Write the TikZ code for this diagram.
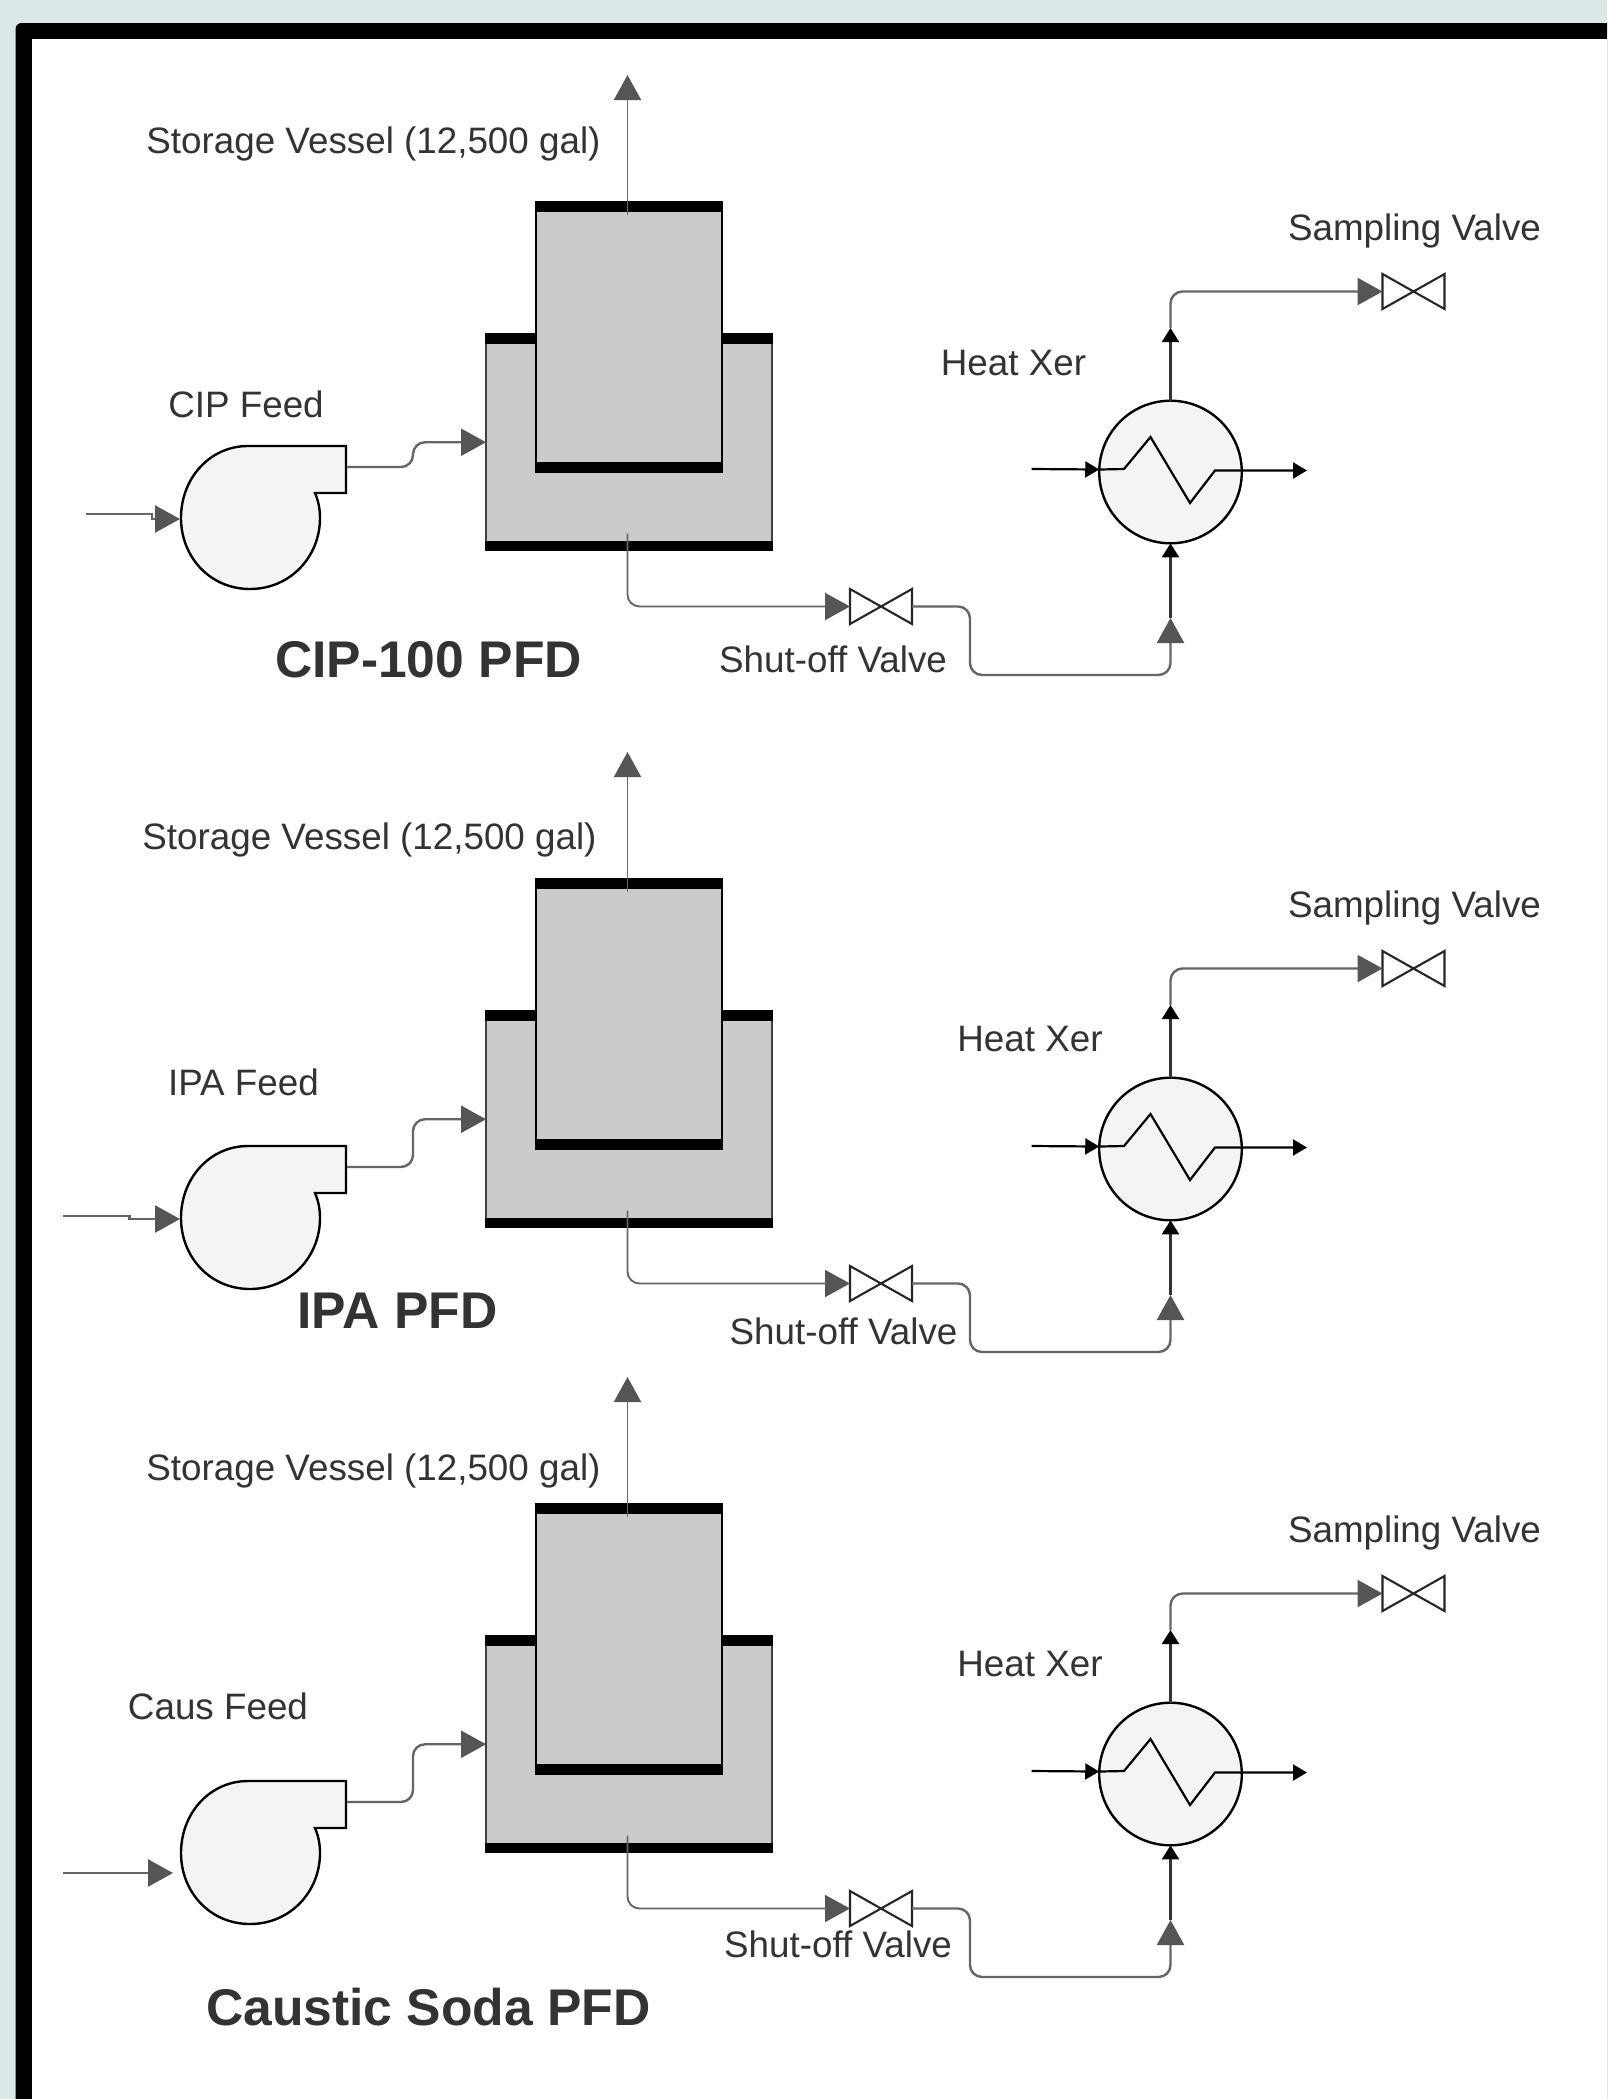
\documentclass[tikz,border=0pt]{standalone}
\usepackage{fontspec}
\setmainfont{Liberation Sans}
\usetikzlibrary{arrows.meta}
\definecolor{pagebg}{HTML}{DCE8E7}
\definecolor{vesselgrey}{HTML}{CBCBCB}
\definecolor{pipegrey}{HTML}{666666}
\definecolor{headgrey}{HTML}{555555}
\definecolor{inktext}{HTML}{333333}
\definecolor{unitfill}{HTML}{F4F4F4}
\tikzset{
  vessel/.style={draw=#1,line width=1.2pt,fill=vesselgrey,inner sep=0pt,outer sep=0pt},
  bar/.style={fill=black,draw=black,line width=1.2pt},
  hxunit/.style={circle,draw=black,line width=1.2pt,fill=unitfill,minimum size=71.3pt,inner sep=0pt,outer sep=0pt},
  valvebox/.style={minimum width=31pt,minimum height=17.5pt,inner sep=0pt,outer sep=0pt},
  bowtie/.style={draw=black!85,line width=1.05pt,fill=white,line join=miter},
  pumpbody/.style={draw=black,line width=1.2pt,fill=unitfill,line join=miter},
  bigpipe/.style={draw=pipegrey,line width=1.2pt,rounded corners=6pt,-{Triangle[length=12.5pt,width=13.5pt,color=headgrey]}},
  smallpipe/.style={draw=black!80,line width=1.1pt,-{Triangle[length=7pt,width=8.5pt,color=black]}},
  thinpipe/.style={bigpipe,line width=.95pt},
  hxpipe/.style={draw=black,line width=1.1pt,line join=miter},
  lab/.style={font=\fontsize{18.4pt}{22pt}\selectfont,text=inktext,inner sep=0pt},
  headline/.style={font=\fontsize{25.8pt}{30pt}\selectfont\bfseries,text=inktext,inner sep=0pt}
}
% #1 prefix, #2 vertical offset of vessels and valves, #3 vertical offset of pump
\newcommand{\pfdsection}[3]{%
  \begin{scope}[shift={(0,#2)}]
    \node[vessel=black!75,minimum width=143pt,minimum height=108pt] (#1-lower) at (629,442.25) {};
    \filldraw[bar] (#1-lower.north west) rectangle +(286,8.5);
    \filldraw[bar] (#1-lower.south west) rectangle +(286,-8.5);
    \node[vessel=black,minimum width=93pt,minimum height=135pt] (#1-upper) at (629,337) {};
    \filldraw[bar] (#1-upper.north west) rectangle +(186,8.5);
    \filldraw[bar] (#1-upper.south west) rectangle +(186,-8.5);
    \coordinate (#1-top) at (627.5,215);
    \coordinate (#1-vent) at (627.5,75);
    \coordinate (#1-drain) at (627.5,533.5);
    \draw[thinpipe] (#1-top) -- (#1-vent);
    \node[valvebox] (#1-sv) at (881,606.5) {};
    \path[bowtie] (#1-sv.north west) -- (#1-sv.south east) -- (#1-sv.north east) -- (#1-sv.south west) -- cycle;
    \node[valvebox] (#1-samp) at (1413.5,291.5) {};
    \path[bowtie] (#1-samp.north west) -- (#1-samp.south east) -- (#1-samp.north east) -- (#1-samp.south west) -- cycle;
    \node[hxunit] (#1-hx) at (1170.5,472) {};
    \coordinate (#1-hxin) at (1170.5,618);
    \coordinate (#1-hxout) at (1170.5,328);
    \coordinate (#1-cwin) at (1031.5,469);
    \coordinate (#1-cwout) at (1307,470.5);
    \draw[thinpipe] (#1-drain) |- (#1-sv.west);
    \draw[bigpipe] (#1-sv.east) -- (970,606.5) -- (970,675) -- (1170.5,675) -- (#1-hxin);
    \draw[smallpipe] (#1-hxin) -- (#1-hx.south);
    \draw[smallpipe] (#1-hx.north) -- (#1-hxout);
    \draw[bigpipe] (#1-hxout) |- (#1-samp.west);
    \draw[hxpipe,-{Triangle[length=7pt,width=8pt,color=black]}] (#1-cwin) -- (#1-hx.178);
    \draw[hxpipe,-{Triangle[length=7pt,width=8pt,color=black]}] (#1-hx.178) -- (1124,469) -- (1150.5,437) -- (1190,503) -- (1215,470.5) -- (#1-cwout);
  \end{scope}
  \begin{scope}[shift={(0,#3)}]
    \path[pumpbody] (346,446) -- (248,446) .. controls (210,446) and (181,478) .. (181,518)
      .. controls (181,557) and (210,589) .. (250,589)
      .. controls (290,589) and (320,557) .. (320,518)
      .. controls (320,508) and (318,500) .. (315,493) -- (346,493) -- cycle;
    \coordinate (#1-pout) at (347,467);
    \coordinate (#1-pin) at (180,519);
  \end{scope}
  \draw[bigpipe] (#1-pout) -- (413,0 |- #1-pout) -- (413,0 |- #1-lower.west) -- (#1-lower.west);
}
\begin{document}
\begin{tikzpicture}[x=.5pt,y=-.5pt]
  \useasboundingbox (0,0) rectangle (1607,2099);
  \clip (0,0) rectangle (1607,2099);
  \fill[pagebg] (0,0) rectangle (1607,2099);
  \fill[black,rounded corners=3pt] (15.5,23) rectangle (1680,2180);
  \fill[white] (32,39) rectangle (1680,2180);

  \pfdsection{a}{0}{0}
  \pfdsection{b}{677}{700}
  \pfdsection{c}{1302}{1335}

  % feed lines
  \coordinate (a-feed) at (86,514);
  \draw[bigpipe,rounded corners=0pt] (a-feed) -- (152,514) -- (152,519) -- (a-pin);
  \coordinate (b-feed) at (63,1216);
  \draw[bigpipe,rounded corners=0pt] (b-feed) -- (129.5,1216) -- (129.5,1219) -- (b-pin);
  \coordinate (c-feed) at (63,1873);
  \coordinate (c-ftip) at (173,1873);
  \draw[bigpipe] (c-feed) -- (c-ftip);

  % labels, first diagram
  \node[lab] (a-ls) at (373.5,143.5) {Storage Vessel (12,500 gal)};
  \node[lab] (a-lf) at (246,404) {CIP Feed};
  \node[lab] (a-lh) at (1013.5,363) {Heat Xer};
  \node[lab] (a-lv) at (1414.5,230.5) {Sampling Valve};
  \node[lab] (a-lo) at (833,659) {Shut-off Valve};
  \node[headline] (a-t) at (428.5,660) {CIP-100 PFD};
  % labels, second diagram
  \node[lab] (b-ls) at (369.5,839.5) {Storage Vessel (12,500 gal)};
  \node[lab] (b-lf) at (243.5,1082) {IPA Feed};
  \node[lab] (b-lh) at (1030,1039) {Heat Xer};
  \node[lab] (b-lv) at (1414.5,907.5) {Sampling Valve};
  \node[lab] (b-lo) at (843.5,1331.5) {Shut-off Valve};
  \node[headline] (b-t) at (397.5,1311) {IPA PFD};
  % labels, third diagram
  \node[lab] (c-ls) at (373.5,1470.5) {Storage Vessel (12,500 gal)};
  \node[lab] (c-lf) at (218,1706) {Caus Feed};
  \node[lab] (c-lh) at (1030,1664) {Heat Xer};
  \node[lab] (c-lv) at (1414.5,1532.5) {Sampling Valve};
  \node[lab] (c-lo) at (838,1944.5) {Shut-off Valve};
  \node[headline] (c-t) at (428.5,2007) {Caustic Soda PFD};
\end{tikzpicture}
\end{document}
